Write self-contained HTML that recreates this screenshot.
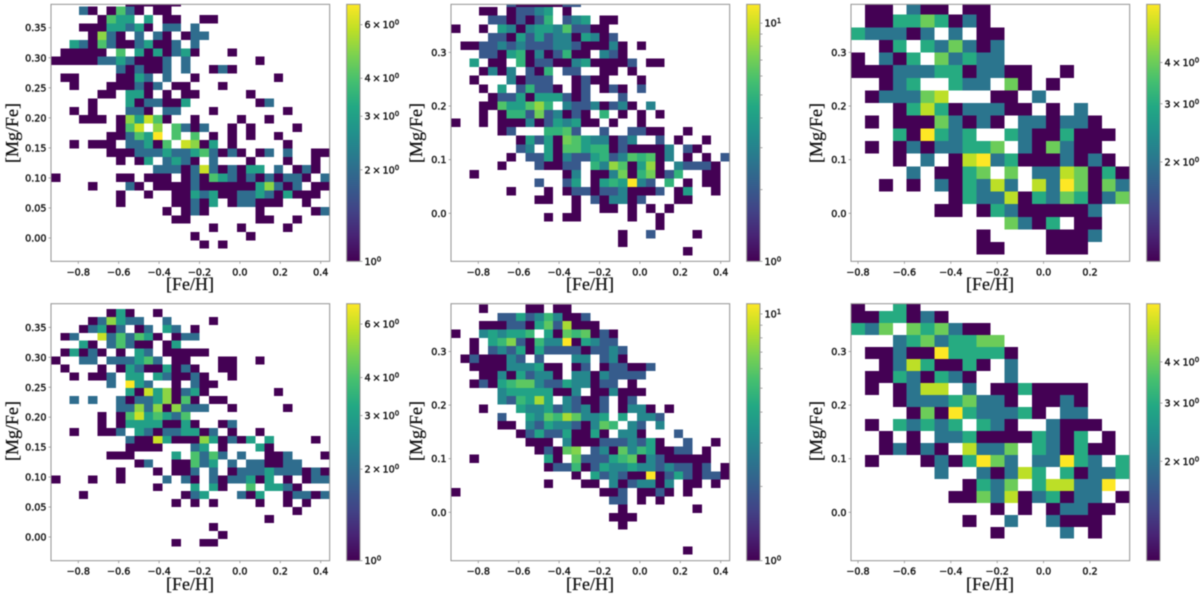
<!DOCTYPE html>
<html lang="en">
<head>
<meta charset="utf-8">
<title>[Mg/Fe] vs [Fe/H] density panels</title>
<style>
html,body{margin:0;padding:0;background:#fff;width:1200px;height:597px;overflow:hidden}
svg{display:block;filter:blur(0.4px)}
.tick{font-family:"DejaVu Sans","Liberation Sans",sans-serif;font-size:9.6px;fill:#111;stroke:#111;stroke-width:.38px}
.title{font-family:"Liberation Serif","DejaVu Serif",serif;font-size:18px;fill:#111;stroke:#111;stroke-width:.25px}
</style>
</head>
<body>
<svg id="figure" width="1200" height="597" viewBox="0 0 1200 597" xmlns="http://www.w3.org/2000/svg">
  <defs id="defs"></defs>
  <g id="panel-a">
    <text class="title" x="190" y="290" text-anchor="middle">[Fe/H]</text>
    <text class="title" transform="translate(18,133) rotate(-90)" text-anchor="middle">[Mg/Fe]</text>
  </g>
  <g id="panel-b">
    <text class="title" x="590" y="290" text-anchor="middle">[Fe/H]</text>
    <text class="title" transform="translate(422,133) rotate(-90)" text-anchor="middle">[Mg/Fe]</text>
  </g>
  <g id="panel-c">
    <text class="title" x="990" y="290" text-anchor="middle">[Fe/H]</text>
    <text class="title" transform="translate(822,133) rotate(-90)" text-anchor="middle">[Mg/Fe]</text>
  </g>
  <g id="panel-d">
    <text class="title" x="190" y="590" text-anchor="middle">[Fe/H]</text>
    <text class="title" transform="translate(18,431) rotate(-90)" text-anchor="middle">[Mg/Fe]</text>
  </g>
  <g id="panel-e">
    <text class="title" x="590" y="590" text-anchor="middle">[Fe/H]</text>
    <text class="title" transform="translate(422,431) rotate(-90)" text-anchor="middle">[Mg/Fe]</text>
  </g>
  <g id="panel-f">
    <text class="title" x="990" y="590" text-anchor="middle">[Fe/H]</text>
    <text class="title" transform="translate(822,431) rotate(-90)" text-anchor="middle">[Mg/Fe]</text>
  </g>
</svg>
<script>
// ---------- tick values and labels ----------
const xTicksWide = [-0.8, -0.6, -0.4, -0.2, 0.0, 0.2, 0.4];
const xLabelsWide = ["\u22120.8", "\u22120.6", "\u22120.4", "\u22120.2", "0.0", "0.2", "0.4"];
const xTicksNarrow = [-0.8, -0.6, -0.4, -0.2, 0.0, 0.2];
const xLabelsNarrow = ["\u22120.8", "\u22120.6", "\u22120.4", "\u22120.2", "0.0", "0.2"];
const yTicksFine = [0.00, 0.05, 0.10, 0.15, 0.20, 0.25, 0.30, 0.35];
const yLabelsFine = ["0.00", "0.05", "0.10", "0.15", "0.20", "0.25", "0.30", "0.35"];
const yTicksCoarse = [0.0, 0.1, 0.2, 0.3];
const yLabelsCoarse = ["0.0", "0.1", "0.2", "0.3"];
const cbarTicksSeven = [1, 2, 3, 4, 6];
const cbarLabelsSeven = ["10^0", "2\u2009\u00d7\u200910^0", "3\u2009\u00d7\u200910^0", "4\u2009\u00d7\u200910^0", "6\u2009\u00d7\u200910^0"];
const cbarTicksTwelve = [1, 2, 3, 4, 5, 6, 7, 8, 9, 10];
const cbarLabelsTwelve = ["10^0", "", "", "", "", "", "", "", "", "10^1"];
const cbarTicksSix = [2, 3, 4];
const cbarLabelsSix = ["2\u2009\u00d7\u200910^0", "3\u2009\u00d7\u200910^0", "4\u2009\u00d7\u200910^0"];

// ---------- counts per 2D bin, rows listed top to bottom ----------
const countsA = [
[0,0,0,0,0,0,0,0,1,1,1,1,1,1],
[0,0,0,2,1,0,1,4,2,1,0,1,1],
[0,0,0,0,0,1,4,3,3,0,3,0,1,1,0,0,1,1],
[0,0,0,1,1,1,3,3,2,3,1,0,2,2,0,2],
[0,0,0,0,1,5,2,1,0,2,0,2,1,0,1,2,2],
[0,0,3,2,1,4,2,1,1,2,3,1,1,2,0,2],
[0,1,1,1,1,1,0,4,0,3,1,3,1,2,3,1,0,0,0,1],
[1,1,1,1,1,2,2,3,2,1,1,1,2,0,2,0,0,0,0,0,0,0,1],
[0,0,0,0,0,0,0,2,1,2,1,1,2,0,2,0,0,1,2,1],
[0,1,1,0,0,0,0,1,1,3,2,0,2,0,0,1,0,0,0,0,0,0,0,0,1],
[0,0,1,0,0,0,1,1,1,2,1,2,0,1,1,0,0,0,1],
[0,0,0,0,0,1,1,0,3,3,1,0,1,0,1,1,0,0,0,0,0,1],
[0,0,0,0,1,0,0,0,3,1,2,2,1,1,3,0,0,0,0,0,0,0,1,2],
[0,0,1,0,1,0,0,0,2,2,1,0,2,2,0,0,0,1,0,0,0,0,0,0,0,1],
[0,0,0,1,1,1,0,1,5,3,6,4,1,0,0,1,0,0,0,0,1,0,0,1],
[0,0,0,0,0,0,0,1,4,6,0,5,0,4,2,1,2,0,0,1,0,1,0,0,0,0,1],
[0,0,0,0,0,0,1,1,2,4,3,7,0,4,0,4,0,1,0,1,0,1,0,0,1],
[0,0,1,0,1,1,1,0,2,2,3,1,4,0,6,5,1,3,0,1,0,0,0,0,0,1],
[0,0,0,0,0,0,1,1,1,2,2,2,3,2,2,3,4,2,1,2,1,0,1,2,0,2,0,0,1,1],
[0,0,0,0,0,0,0,1,0,1,3,0,2,3,2,1,0,2,0,0,0,1,0,0,0,1,0,0,1],
[0,0,0,0,0,0,0,0,0,0,0,2,2,2,1,2,6,2,1,2,1,3,3,0,2,0,1,2,1],
[1,0,0,0,0,0,0,1,1,0,1,1,1,0,1,2,1,4,3,2,1,2,1,2,1,2,2,1,0,2],
[0,0,0,0,1,0,0,0,2,1,0,1,1,1,1,2,1,1,1,1,1,1,3,5,2,1,2,0,1,1],
[0,0,0,0,0,0,0,1,0,0,1,0,0,1,1,3,2,3,1,1,2,2,3,2,1,3,1,1,1],
[0,0,0,0,0,0,0,1,0,0,0,0,0,1,1,2,1,3,0,1,2,2,1,1,1,0,0,1],
[0,0,0,0,0,0,0,0,0,0,0,0,1,0,1,2,1,0,0,0,0,0,1,0,0,0,0,0,1,2],
[0,0,0,0,0,0,0,0,0,0,0,0,0,1,1,0,0,0,0,0,0,0,1,1,0,0,1],
[0,0,0,0,0,0,0,0,0,0,0,0,0,0,0,0,0,1,0,0,1,0,0,0,0,1],
[0,0,0,0,0,0,0,0,0,0,0,0,0,0,0,1,0,0,0,0,0,1],
[0,0,0,0,0,0,0,0,0,0,0,0,0,0,0,0,1,0,1]
];
const countsB = [
[0,0,0,0,0,0,2,1,1,1,1,1,2,2],
[0,0,0,1,1,0,1,2,2,3,4,0,1],
[0,0,0,0,2,2,1,2,1,2,5,0,2,3,4,0,1,1],
[1,0,0,1,0,4,3,1,3,4,4,3,6,2,2,1,1],
[0,0,0,0,2,2,1,4,2,4,2,3,3,1,4,3,1,2],
[0,1,1,2,2,3,2,3,2,2,2,3,3,2,1,1,1,3,1,0,1],
[0,0,0,2,2,1,4,5,1,3,1,2,5,1,1,0,3,2,1],
[0,0,4,0,1,1,0,5,1,2,2,1,1,3,4,1,1,1,1,2,0,1,1],
[0,0,0,1,3,1,3,0,2,1,5,0,2,2,0,0,1,1,0,1],
[0,0,1,0,0,0,3,1,2,2,2,0,0,1,2,1,1,0,0,0,1],
[0,0,0,1,0,4,0,2,5,2,2,1,0,1,2,0,1,2,1,0,2],
[0,0,0,0,1,2,2,4,1,4,4,4,2,1,2,0,0,0,2],
[0,0,0,1,1,6,4,4,6,8,5,0,3,2,2,3,1,2,3,1,0,3],
[0,0,0,1,0,1,5,5,2,7,2,3,1,2,1,0,5,0,1,0,1,0,1],
[1,0,0,1,0,1,1,1,3,1,2,4,3,4,1,1,0,1,0,0,1],
[0,0,0,0,0,1,2,0,0,0,5,5,6,2,0,0,2,0,0,2,2,1,1,0,0,1],
[0,0,0,0,0,0,0,1,4,2,4,1,7,6,4,3,3,1,2,3,0,0,2,0,1,0,0,1],
[0,0,0,0,0,0,0,2,3,0,4,1,6,6,4,5,5,1,2,1,1,1,1,3,0,2,1],
[0,0,0,0,0,0,1,0,2,2,4,1,3,2,2,4,5,2,3,6,5,6,1,3,0,1,0,1,0,2],
[0,0,0,0,0,1,0,0,0,2,1,1,2,2,0,5,3,8,6,1,4,8,1,0,3,2,2,2,1],
[0,0,1,0,0,0,0,0,0,0,0,0,1,3,0,1,1,3,7,1,5,7,1,2,5,0,0,1,1],
[0,0,0,0,0,0,0,0,0,2,0,0,2,4,0,1,4,5,4,12,3,2,0,5,0,1,0,1,1],
[0,0,0,0,0,0,1,0,0,0,1,0,1,2,2,1,2,2,3,1,1,1,2,0,1,4,0,0,1],
[0,0,0,0,0,0,0,0,0,1,1,0,0,1,0,2,1,3,3,1,2,0,0,0,1,1],
[0,0,0,0,0,0,0,0,0,0,0,0,0,1,0,0,1,1,0,1,0,1,0,1],
[0,0,0,0,0,0,0,0,0,0,1,0,1,1,0,0,0,0,0,1,0,0,1],
[0,0,0,0,0,0,0,0,0,0,0,0,0,0,0,0,0,0,0,0,0,0,1],
[0,0,0,0,0,0,0,0,0,0,0,0,0,0,0,0,0,0,1,0,0,2,0,0,0,0,1],
[0,0,0,0,0,0,0,0,0,0,0,0,0,0,0,0,0,0,1],
[0,0,0,0,0,0,0,0,0,0,0,0,0,0,0,0,0,0,0,0,0,0,0,0,0,1]
];
const countsC = [
[0,1,1,0,2,1,1,0,1,1],
[0,1,1,3,3,4,3,1,2,1],
[3,2,2,2,1,2,0,2,0,1,1],
[0,0,1,3,0,3,2,4,2,1,2],
[1,0,2,1,3,0,4,2,3,2,2],
[1,1,1,2,2,2,3,3,1,2,2,1,1,0,0,1],
[0,0,1,2,3,0,0,3,2,2,0,4,1,0,1],
[0,1,2,2,2,4,5,0,0,0,1,1,0,2],
[0,0,0,1,3,5,3,1,2,2,2,1,1,0,1,0,2],
[0,1,0,1,1,1,4,2,1,2,1,0,2,2,1,2,2,1],
[0,0,0,3,1,6,3,2,3,0,0,3,2,1,1,3,1,1,1],
[0,1,0,1,2,1,2,2,3,3,4,0,2,1,4,2,1,1],
[0,0,0,1,0,2,0,1,5,6,2,3,1,1,1,2,1,2,1],
[0,0,0,0,2,0,1,1,3,4,0,4,0,2,2,5,4,1,3,1],
[0,0,1,0,1,0,2,1,3,2,5,2,0,5,2,6,4,1,4,2],
[0,0,0,0,0,0,0,1,3,2,2,5,1,3,2,4,3,1,2,4],
[0,0,0,0,0,0,1,1,0,1,3,2,1,1,1,1,1,2],
[0,0,0,0,0,0,0,0,0,0,0,4,2,1,3,0,1,1],
[0,0,0,0,0,0,0,0,0,1,0,0,0,0,1,1,1,2],
[0,0,0,0,0,0,0,0,0,1,1,0,0,0,1,1,1]
];
const countsD = [
[0,0,0,0,0,0,1,3,1,0,0,1],
[0,0,0,0,1,2,5,3,2,2,0,0,2,0,0,0,0,1],
[0,0,0,1,2,3,1,2,0,1,2,0,3,2,0,1],
[0,1,2,0,0,6,2,4,2,4,3,1,0,1,2,2],
[0,0,0,3,1,0,2,4,2,1,1,0,1,3],
[0,1,3,1,2,1,0,1,0,3,2,0,1,1,1,1,1],
[1,0,0,2,2,0,2,2,2,3,4,2,0,1,1,0,0,0,1,1,0,0,1],
[0,1,0,0,0,1,0,1,3,2,1,1,3,1,2,1,0,0,1,1],
[0,0,1,0,1,1,2,0,3,3,0,3,2,1,1,2,1,0,0,1],
[0,0,0,0,0,0,2,0,7,3,2,0,0,1,0,2,1,1],
[0,0,0,0,0,0,0,0,3,1,6,3,5,1,2,3,1,0,0,0,0,0,0,0,1],
[0,0,2,0,2,0,0,2,1,2,2,3,5,1,4,1,0,1,1],
[0,0,0,0,0,0,0,2,2,5,2,5,1,5,2,2,2,0,0,1,0,0,0,0,0,1],
[0,0,0,0,0,1,0,1,4,6,3,4,3,2,4],
[0,0,0,0,0,1,0,1,3,3,3,3,1,1,3,1,0,0,1,2],
[0,0,1,0,0,1,1,2,0,3,2,1,2,2,3,3,1,2,0,1,0,0,1],
[0,0,0,0,0,0,0,0,2,1,1,6,3,1,1,1,5,3,1,2,1,3,0,3,0,0,0,0,1],
[0,0,0,0,0,0,0,0,1,1,1,1,0,0,0,2,3,0,1,0,0,0,3,1],
[0,0,0,0,0,0,1,1,1,0,0,0,0,3,0,4,2,4,2,0,2,0,0,1,1,2,0,0,0,1],
[0,0,0,0,0,0,0,0,0,1,2,0,0,1,1,4,2,3,0,2,0,2,2,1,1,2,2],
[0,0,0,0,0,0,0,1,0,0,0,1,0,1,1,2,0,2,0,1,2,2,2,3,2,2,2,1,2,1],
[1,0,0,0,1,0,0,1,0,0,0,0,2,0,2,1,0,2,1,2,2,3,1,3,0,1,0,1,2,2],
[0,0,0,0,0,0,0,0,0,0,0,1,0,0,0,3,0,3,1,0,0,4,0,3,3,2,1],
[0,0,0,1,0,0,0,0,0,0,0,0,0,0,1,2,3,0,0,0,2,1,3,0,0,1,2,2,1,2],
[0,0,0,0,0,0,0,0,0,0,0,0,0,1,0,1,0,1,0,0,0,0,1,0,0,1,0,1],
[0,0,0,0,0,0,0,0,0,0,0,0,0,0,0,0,0,0,0,0,0,0,0,0,0,0,1],
[0,0,0,0,0,0,0,0,0,0,0,0,0,0,0,0,0,0,0,0,0,0,0,1],
[0,0,0,0,0,0,0,0,0,0,0,0,0,0,0,0,0,1],
[0,0,0,0,0,0,0,0,0,0,0,0,0,0,0,0,0,0,1],
[0,0,0,0,0,0,0,0,0,0,0,0,0,1,0,0,1,1]
];
const countsE = [
[0,0,0,1,0,0,0,0,1,1,0,1,1],
[0,0,0,0,0,2,2,4,2,3,5,3,1,1,2],
[0,0,0,1,1,1,2,2,1,4,6,2,8,1,1,1],
[1,0,0,3,4,3,4,4,5,0,4,1,6,5,6,1,2,1],
[0,0,1,0,4,5,7,2,1,5,3,3,11,1,4,3,2,2],
[0,0,1,0,2,3,2,4,1,4,2,2,2,2,1,2,2,3,2],
[0,1,2,1,1,1,3,2,0,2,0,0,0,3,3,0,2,3,1],
[0,0,1,1,1,1,3,3,3,4,1,1,0,1,2,0,1,2,2,1,1,2],
[0,0,0,1,1,3,1,4,2,3,3,1,0,3,3,1,3,2,2,2,2],
[0,0,1,2,1,4,5,6,6,3,2,2,4,3,3,1,2,2,0,1],
[0,0,0,0,0,3,4,4,4,4,4,1,1,3,0,1,1,3,1,1,1],
[0,0,0,0,0,3,2,5,4,8,4,0,3,2,1,1,2,0,1,2],
[0,0,0,1,0,0,0,4,3,3,4,2,3,2,3,1,2,0,1,3,3,1,0,1],
[0,0,0,0,0,2,0,0,4,3,6,5,8,6,3,3,4,0,4,0,3,3,2],
[0,0,0,0,0,1,1,0,3,2,4,3,3,2,1,3,6,5,0,3,2,0,3],
[0,0,0,0,0,0,0,1,2,4,2,2,4,1,1,4,1,0,3,3,1,0,0,0,2],
[0,0,0,0,0,0,0,0,1,1,1,0,3,1,1,1,2,2,2,3,2,4,1,0,0,2,0,0,1],
[0,0,0,0,0,0,0,0,0,1,2,1,6,7,0,2,3,1,6,3,5,4,1,1,2,2,0,1],
[0,0,1,0,0,0,0,0,0,0,4,1,0,6,2,2,2,4,5,6,1,3,2,1,1,1,1,1],
[0,0,0,0,0,0,0,0,0,0,1,2,2,5,1,2,4,3,3,4,3,3,2,3,2,2,1,2,0,1],
[0,0,0,0,0,0,0,0,0,0,0,0,0,1,0,4,2,3,2,1,1,11,1,2,4,2,1,2,2,1],
[0,0,0,0,0,0,0,0,0,0,1,0,0,0,1,1,0,3,1,2,3,3,1,3,0,1,1,0,1],
[1,0,0,0,0,0,0,0,0,0,0,0,0,0,0,0,1,1,2,0,1,1,2,1,0,1],
[0,0,0,0,0,0,0,0,0,0,0,0,0,0,0,0,0,2,2,0,1,0,1],
[0,0,0,0,0,0,0,0,0,0,0,0,0,0,0,0,0,0,1,0,0,0,0,0,0,0,1],
[0,0,0,0,0,0,0,0,0,0,0,0,0,0,0,0,0,1,1,1],
[0,0,0,0,0,0,0,0,0,0,0,0,0,0,0,0,0,0,1],
[],
[],
[0,0,0,0,0,0,0,0,0,0,0,0,0,0,0,0,0,0,0,0,0,0,0,0,0,1]
];
const countsF = [
[1,0,0,3,1],
[1,1,3,3,1,2,1],
[3,2,4,0,4,3,4,2,1,1],
[0,0,0,2,3,4,2,3,3,4,4],
[0,1,1,2,1,1,6,3,3,3,3,1],
[0,0,1,2,5,3,1,1,3,1,0,2],
[0,1,1,3,2,1,3,2,1,0,0,2],
[0,1,0,1,2,5,5,0,2,0,1,1,3,1,1,1,1],
[0,0,0,1,2,2,2,3,4,2,2,1,0,1,1,2,1],
[0,0,0,0,1,4,1,6,3,2,2,2,3,1,0,2,2],
[0,1,0,3,2,3,2,3,0,3,2,1,0,0,2,1,1,1],
[0,0,1,0,1,0,2,2,3,1,1,1,1,3,2,1,3,0,1],
[0,0,1,2,1,2,1,0,5,2,2,4,0,3,2,1,3,1,1],
[0,1,0,0,0,1,2,1,3,6,4,2,0,2,2,6,3,2,0,3],
[0,0,0,0,0,0,2,0,0,2,1,2,5,3,0,3,1,2,2,3],
[0,0,0,0,0,0,0,0,1,3,2,4,0,3,5,5,2,2,6,0],
[0,0,0,0,0,0,0,1,1,4,2,5,1,2,3,1,2,2,0,1],
[0,0,0,0,0,0,0,0,0,0,1,0,1,0,1,2,2,1,1],
[0,0,0,0,0,0,0,0,1,0,0,2,0,0,2,1,1,1],
[0,0,0,0,0,0,0,0,0,0,1,0,0,0,0,2,0,1]
];

// ---------- panel layout (geometry kept apart from the data) ----------
const VIRIDIS = ["#440154","#482475","#414487","#355f8d","#2a788e","#21918c","#22a884","#44bf70","#7ad151","#bddf26","#fde725"];
const wideBins = {x0:-0.9351, xBin:0.04598, xMax:0.4444, xMin:-0.9351};
const narrowBins = {x0:-0.8302, xBin:0.06006, xMax:0.371, xMin:-0.8302};
const panels = [
 {id:"panel-a", counts:countsA, left:51,  top:4.33,  bins:wideBins,   yMin:-0.0388, yMax:0.38895, yTop:0.39894, yBin:0.01389, xT:xTicksWide, xL:xLabelsWide, yT:yTicksFine, yL:yLabelsFine, vmax:7,  cT:cbarTicksSeven, cL:cbarLabelsSeven},
 {id:"panel-b", counts:countsB, left:451, top:4.33,  bins:wideBins,   yMin:-0.0896, yMax:0.3896,  yTop:0.40028, yBin:0.015976,xT:xTicksWide, xL:xLabelsWide, yT:yTicksCoarse, yL:yLabelsCoarse, vmax:12, cT:cbarTicksTwelve, cL:cbarLabelsTwelve},
 {id:"panel-c", counts:countsC, left:851, top:4.33,  bins:narrowBins, yMin:-0.0896, yMax:0.3896,  yTop:0.39386, yBin:0.023556,xT:xTicksNarrow, xL:xLabelsNarrow, yT:yTicksCoarse, yL:yLabelsCoarse, vmax:6, cT:cbarTicksSix, cL:cbarLabelsSix},
 {id:"panel-d", counts:countsD, left:51,  top:303.7, bins:wideBins,   yMin:-0.0396, yMax:0.3895,  yTop:0.38063, yBin:0.013228,xT:xTicksWide, xL:xLabelsWide, yT:yTicksFine, yL:yLabelsFine, vmax:7,  cT:cbarTicksSeven, cL:cbarLabelsSeven},
 {id:"panel-e", counts:countsE, left:451, top:303.7, bins:wideBins,   yMin:-0.0903, yMax:0.3892,  yTop:0.38788, yBin:0.015568,xT:xTicksWide, xL:xLabelsWide, yT:yTicksCoarse, yL:yLabelsCoarse, vmax:11, cT:cbarTicksTwelve, cL:cbarLabelsTwelve},
 {id:"panel-f", counts:countsF, left:851, top:303.7, bins:narrowBins, yMin:-0.0903, yMax:0.3892,  yTop:0.39779, yBin:0.022356,xT:xTicksNarrow, xL:xLabelsNarrow, yT:yTicksCoarse, yL:yLabelsCoarse, vmax:6, cT:cbarTicksSix, cL:cbarLabelsSix}
];

const NS = "http://www.w3.org/2000/svg";
const AX_W = 278.67, AX_H = 257, CB_GAP = 295.67, CB_W = 13.33, SPINE = "#939393";

function mk(tag, attrs, parent){
  const el = document.createElementNS(NS, tag);
  for (const k in attrs) el.setAttribute(k, attrs[k]);
  parent.appendChild(el);
  return el;
}
function hexToRgb(h){ return [1,3,5].map(i => parseInt(h.substr(i,2),16)); }
function viridis(t){
  const u = Math.max(0, Math.min(1, t)) * (VIRIDIS.length - 1);
  const i = Math.min(VIRIDIS.length - 2, Math.floor(u));
  const a = hexToRgb(VIRIDIS[i]), b = hexToRgb(VIRIDIS[i + 1]), f = u - i;
  return "rgb(" + a.map((v, k) => Math.round(v + (b[k] - v) * f)).join(",") + ")";
}

const defs = document.getElementById("defs");
const grad = mk("linearGradient", {id:"viridis-grad", x1:0, y1:1, x2:0, y2:0}, defs);
VIRIDIS.forEach((c, i) => mk("stop", {offset:i / (VIRIDIS.length - 1), "stop-color":c}, grad));

panels.forEach(p => {
  const g = document.getElementById(p.id);
  const b = p.bins;
  const xScale = v => p.left + (v - b.xMin) / (b.xMax - b.xMin) * AX_W;
  const yScale = v => p.top + (p.yMax - v) / (p.yMax - p.yMin) * AX_H;
  const colorScale = v => Math.log(v) / Math.log(p.vmax);
  const cbarScale = v => p.top + AX_H - colorScale(v) * AX_H;

  const clip = mk("clipPath", {id:"clip-" + p.id}, defs);
  mk("rect", {x:p.left, y:p.top, width:AX_W, height:AX_H}, clip);

  const cells = mk("g", {"clip-path":"url(#clip-" + p.id + ")", "shape-rendering":"crispEdges"}, g);
  
  
  p.counts.forEach((row, r) => {
    row.forEach((count, c) => {
      if (!count) return;
      const x0 = xScale(b.x0 + c * b.xBin), x1 = xScale(b.x0 + (c + 1) * b.xBin);
      const y0 = yScale(p.yTop - r * p.yBin), y1 = yScale(p.yTop - (r + 1) * p.yBin);
      const cell = mk("rect", {x:x0, y:y0, width:x1 - x0, height:y1 - y0, fill:viridis(colorScale(count))}, cells);
      
      
    });
  });

  const spine = mk("rect", {x:p.left, y:p.top, width:AX_W, height:AX_H, fill:"none", stroke:SPINE, "stroke-width":1}, g);
  
  

  p.xT.forEach((v, i) => {
    const x = xScale(v);
    const t = mk("line", {x1:x, x2:x, y1:p.top + AX_H, y2:p.top + AX_H + 2.5, stroke:SPINE, "stroke-width":0.8}, g);
    
    
    const l = mk("text", {class:"tick", x:x, y:p.top + AX_H + 14, "text-anchor":"middle"}, g);
    
    
    l.textContent = p.xL[i];
  });
  p.yT.forEach((v, i) => {
    const y = yScale(v);
    const t = mk("line", {x1:p.left - 2.5, x2:p.left, y1:y, y2:y, stroke:SPINE, "stroke-width":0.8}, g);
    
    
    const l = mk("text", {class:"tick", x:p.left - 4.5, y:y + 3.5, "text-anchor":"end"}, g);
    
    
    l.textContent = p.yL[i];
  });

  const cbx = p.left + CB_GAP;
  const bar = mk("rect", {x:cbx, y:p.top, width:CB_W, height:AX_H, fill:"url(#viridis-grad)", stroke:SPINE, "stroke-width":1}, g);
  
  
  p.cT.forEach((v, i) => {
    const y = cbarScale(v);
    const t = mk("line", {x1:cbx + CB_W, x2:cbx + CB_W + 2.5, y1:y, y2:y, stroke:SPINE, "stroke-width":0.8}, g);
    
    
    if (!p.cL[i]) return;
    const parts = p.cL[i].split("^");
    const l = mk("text", {class:"tick", x:cbx + CB_W + 4.5, y:y + 3.5}, g);
    
    
    l.appendChild(document.createTextNode(parts[0]));
    const sup = mk("tspan", {dy:-3.5, "font-size":"7px"}, l);
    sup.textContent = parts[1];
  });
});
</script>
</body>
</html>
